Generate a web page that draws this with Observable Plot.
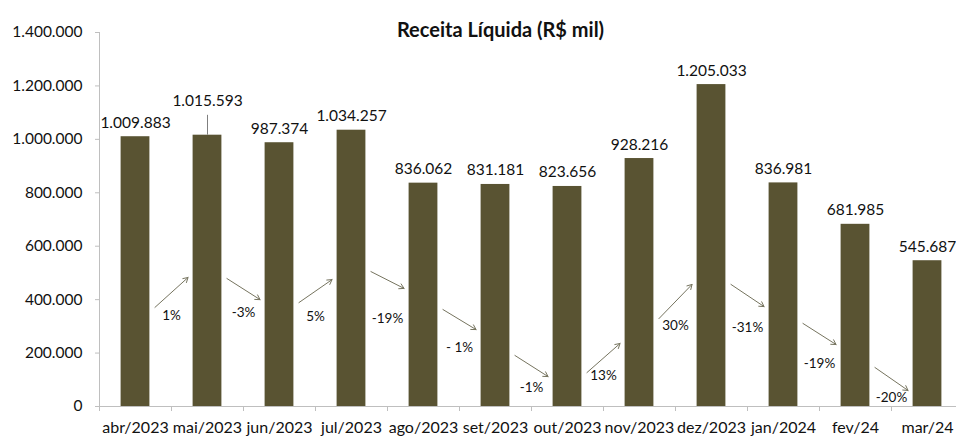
<!DOCTYPE html>
<html>
<head>
<meta charset="utf-8">
<script src="https://cdn.jsdelivr.net/npm/d3@7"></script>
<script src="https://cdn.jsdelivr.net/npm/@observablehq/plot@0.6"></script>
<style>
  html, body { margin: 0; padding: 0; background: #fff; overflow: hidden; }
  #chart svg { display: block; }
</style>
</head>
<body>
<div id="chart"></div>
<script>
const title = "Receita Líquida (R$ mil)";
const months = ["abr/2023", "mai/2023", "jun/2023", "jul/2023", "ago/2023", "set/2023",
  "out/2023", "nov/2023", "dez/2023", "jan/2024", "fev/24", "mar/24"];
const revenue = [1009883, 1015593, 987374, 1034257, 836062, 831181, 823656, 928216, 1205033, 836981, 681985, 545687];
// level where each value label sits (mai/2023 label is lifted with a leader line)
const valueLabelLevel = [1009883, 1090000, 987374, 1034257, 836062, 831181, 823656, 928216, 1205033, 836981, 681985, 545687];
const yTicks = [0, 200000, 400000, 600000, 800000, 1000000, 1200000, 1400000];

// month-over-month change annotations
const changeLabels = ["1%", "-3%", "5%", "-19%", "- 1%", "-1%", "13%", "30%", "-31%", "-19%", "-20%"];
const changeLabelLevel = [341000, 352000, 337000, 329000, 221000, 71000, 116000, 303000, 296000, 161000, 34000];
const arrowFromLevel = [371000, 479000, 389000, 505000, 363000, 191000, 127000, 329000, 457000, 311000, 146000];
const arrowToLevel = [483000, 400000, 475000, 442000, 288000, 112000, 236000, 457000, 374000, 232000, 60000];

const locale = d3.formatLocale({decimal: ",", thousands: ".", grouping: [3], currency: ["R$", ""]});
const fmt = locale.format(",d");

const rows = months.map((m, i) => ({month: m, i, value: revenue[i], level: valueLabelLevel[i]}));
const changes = changeLabels.map((t, i) => ({
  i, text: t, level: changeLabelLevel[i], from: arrowFromLevel[i], to: arrowToLevel[i]
}));
const idx = months.map((m, i) => i);
const bounds = months.map((m, i) => i - 0.5);

const barColor = "#595332";
const gap = 0.27;

const chart = Plot.plot({
  width: 956,
  height: 437,
  marginLeft: 99,
  marginRight: -7,
  marginTop: 32,
  marginBottom: 31,
  style: {fontFamily: "Lato, 'Open Sans', sans-serif", fontSize: "15.5px", color: "#000", background: "#fff"},
  x: {type: "linear", domain: [-0.5, 11.5], label: null},
  y: {domain: [0, 1400000], label: null},
  marks: [
    // axes lines
    Plot.ruleY([0], {stroke: "#bfbfbf"}),
    Plot.ruleX([-0.5], {y1: 0, y2: 1400000, stroke: "#bfbfbf"}),
    Plot.axisY({ticks: yTicks, tickSize: 4, tickFormat: () => "", stroke: "#bfbfbf", label: null}),
    Plot.axisY({ticks: yTicks, tickSize: 0, tickPadding: 17, tickFormat: fmt, fill: "#111", fontSize: 15.5, label: null}),
    Plot.axisX({ticks: bounds, tickSize: 5, tickFormat: () => "", stroke: "#bfbfbf", label: null}),
    Plot.axisX({ticks: idx, tickSize: 0, tickPadding: 15, tickFormat: i => months[i], fill: "#111", fontSize: 16, label: null}),
    // bars
    Plot.rectY(rows, {x1: d => d.i - 0.2, x2: d => d.i + 0.2, y1: 0, y2: "value", fill: barColor}),
    // leader line for lifted label
    Plot.ruleX(rows.filter(d => d.level !== d.value), {x: "i", y1: "value", y2: "level", stroke: "#7f7f7f", strokeWidth: 1}),
    // value labels
    Plot.text(rows, {x: "i", y: "level", text: d => fmt(d.value), dy: -14, fontSize: 15.5, fill: "#111"}),
    // change arrows
    Plot.arrow(changes, {
      x1: d => d.i + gap, x2: d => d.i + 1 - gap, y1: "from", y2: "to",
      stroke: "#76745f", strokeWidth: 1, headLength: 8
    }),
    Plot.text(changes, {x: d => d.i + 0.5, y: "level", text: "text", fontSize: 13.5, fill: "#111"}),
    // title
    Plot.text([title], {frameAnchor: "top", dy: -10, dx: -31, fontSize: 20, fontWeight: "bold", fill: "#111"})
  ]
});
document.getElementById("chart").appendChild(chart);
</script>
</body>
</html>
